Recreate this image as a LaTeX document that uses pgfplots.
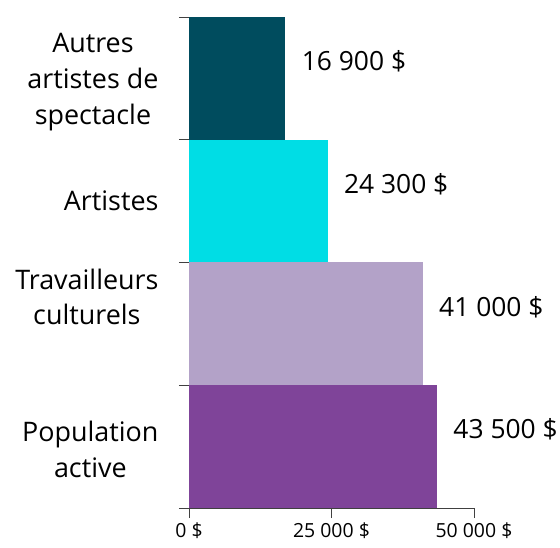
\documentclass[border=0pt]{standalone}
\usepackage{fontspec}
\setmainfont{Open Sans}
\usepackage{pgfplots}
\pgfplotsset{compat=1.18}
\definecolor{c1}{HTML}{7F4499}
\definecolor{c2}{HTML}{B3A2C8}
\definecolor{c3}{HTML}{00DDE5}
\definecolor{c4}{HTML}{004C5E}
\begin{document}
\begin{tikzpicture}
\begin{axis}[
 scale only axis, width=285bp, height=491bp, at={(0,0)}, anchor=south west,
 xmin=0, xmax=50000, ymin=-0.5, ymax=3.5,
 scaled x ticks=false,
 axis x line=bottom, axis y line=left,
 axis line style={-, draw=black!75, line width=0.8bp},
 xtick={0,25000,50000}, xticklabels={0 \$, 25 000 \$, 50 000 \$},
 ytick={-0.5,0.5,1.5,2.5,3.5}, yticklabels={},
 tick align=outside, major tick length=10bp,
 tick style={draw=black!75, line width=0.8bp},
 xticklabel style={font=\fontsize{19.5}{22}\selectfont, yshift=-1bp},
 extra y ticks={-0.02,1.22,2,2.97},
 extra y tick labels={Population\\active, Travailleurs\\culturels, Artistes, Autres\\artistes de\\spectacle},
 extra y tick style={major tick length=0pt, tick style={draw=none},
   yticklabel style={align=center, font=\fontsize{27}{36}\selectfont, xshift=-27bp}},
 xbar, bar width=1, bar shift=0pt,
 point meta=x,
 nodes near coords={\pgfmathprintnumber[1000 sep={\ }, assume math mode=true]{\pgfplotspointmeta}~\$},
 nodes near coords style={anchor=west, xshift=13bp, yshift=17bp, font=\fontsize{26.5}{30}\selectfont, text=black},
 clip=false,
]
\addplot[fill=c1, draw=none] coordinates {(43500,0)};
\addplot[fill=c2, draw=none] coordinates {(41000,1)};
\addplot[fill=c3, draw=none] coordinates {(24300,2)};
\addplot[fill=c4, draw=none] coordinates {(16900,3)};
\end{axis}
\pgfresetboundingbox
\path[use as bounding box] (-189bp,-40bp) rectangle (371bp,508bp);
\end{tikzpicture}
\end{document}
